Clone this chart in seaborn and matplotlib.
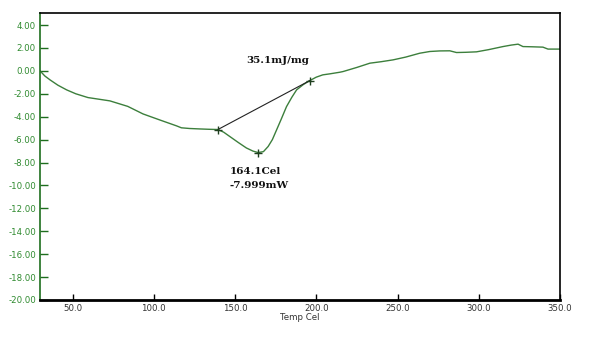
import numpy as np
import pandas as pd
import matplotlib
matplotlib.use("Agg")
import matplotlib.pyplot as plt
import seaborn as sns

# DSC trace (Temp Cel vs mW)
temp = [30.0, 33.0, 36.2, 41.0, 46.4, 52.0, 59.5, 73.0, 84.0, 93.4, 104.0, 114.0, 117.0,
        122.0, 128.4, 134.0, 139.5, 143.0, 146.9, 152.0, 157.0, 161.0, 164.2, 167.5,
        170.4, 173.0, 175.6, 178.5, 181.7, 185.0, 187.9, 192.0, 196.0, 200.0, 204.0,
        208.4, 214.5, 216.5, 225.0, 233.0, 240.0, 247.3, 255.0, 263.7, 269.9, 276.0,
        282.2, 286.3, 292.0, 298.6, 306.0, 314.9, 320.0, 324.2, 327.2, 333.0, 339.5,
        342.6, 350.0]
heat = [0.00, -0.45, -0.79, -1.25, -1.66, -2.00, -2.33, -2.62, -3.10, -3.76, -4.30, -4.80,
        -4.97, -5.03, -5.07, -5.10, -5.12, -5.35, -5.74, -6.25, -6.73, -7.00, -7.13,
        -7.05, -6.60, -6.00, -5.15, -4.20, -3.12, -2.30, -1.66, -1.20, -0.85, -0.55,
        -0.35, -0.26, -0.12, -0.06, 0.30, 0.67, 0.80, 0.96, 1.20, 1.54, 1.69, 1.74,
        1.75, 1.60, 1.62, 1.66, 1.85, 2.12, 2.25, 2.33, 2.12, 2.10, 2.07, 1.90, 1.90]

# picked points: onset, peak, end
pick_temp = [139.5, 164.1, 196.0]
pick_heat = [-5.12, -7.13, -0.85]

df = pd.DataFrame({"temp": temp, "heat": heat})

sns.set_style("white")
plt.rcParams['font.family'] = ['DejaVu Sans']

fig = plt.figure(figsize=(6.01, 3.58), dpi=100)
ax = fig.add_axes([40/601, 58/358, 520/601, 287/358])

green = "#3c7f3c"
sns.lineplot(data=df, x="temp", y="heat", color=green, linewidth=1.0, ax=ax)

# baseline between onset and end
ax.plot([pick_temp[0], pick_temp[2]], [pick_heat[0], pick_heat[2]], color="#222222", linewidth=0.8)
ax.plot(pick_temp, pick_heat, linestyle="none", marker="+", markersize=6,
        markeredgewidth=1.0, color="#1f3f1f")

ax.text(176, 0.55, "35.1mJ/mg", family="DejaVu Serif", fontweight="bold",
        fontsize=7.5, ha="center", va="bottom", color="#111111")
ax.text(146.5, -8.8, "164.1Cel", family="DejaVu Serif", fontweight="bold",
        fontsize=7.5, ha="left", va="center", color="#111111")
ax.text(146.5, -10.0, "-7.999mW", family="DejaVu Serif", fontweight="bold",
        fontsize=7.5, ha="left", va="center", color="#111111")

ax.set_xlim(30, 350)
ax.set_ylim(-20, 5.05)
ax.set_xticks(np.arange(50, 351, 50))
ax.set_yticks(np.arange(-20, 4.1, 2))
ax.set_xticklabels(["%.1f" % v for v in np.arange(50, 351, 50)])
ax.set_yticklabels(["%.2f" % v for v in np.arange(-20, 4.1, 2)])

ax.tick_params(axis="y", direction="in", length=6, width=1, color="#1e6e1e",
               labelcolor="#2f8a2f", labelsize=6.2, pad=3)
ax.tick_params(axis="x", direction="in", length=4, width=1, color="black",
               labelcolor="#333333", labelsize=6.2, pad=3)
ax.tick_params(left=True, bottom=True)

ax.set_xlabel("Temp Cel", fontsize=6.2, color="#333333", labelpad=0)
ax.set_ylabel("")

for side in ["top", "right"]:
    ax.spines[side].set_color("black")
    ax.spines[side].set_linewidth(1.2)
ax.spines["bottom"].set_color("black")
ax.spines["bottom"].set_linewidth(2.0)
ax.spines["left"].set_color("#1e6e1e")
ax.spines["left"].set_linewidth(1.2)

fig.savefig("out.png", dpi=100)
